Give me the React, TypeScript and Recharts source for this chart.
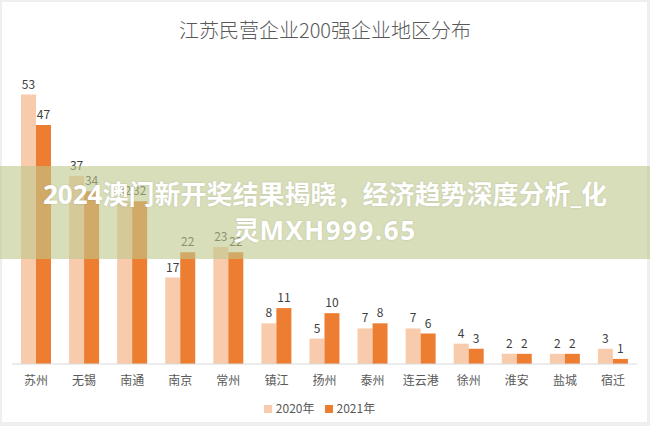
import React from 'react';
import { BarChart, Bar, XAxis, YAxis, Legend, LabelList } from 'recharts';

const cities = ['苏州', '无锡', '南通', '南京', '常州', '镇江', '扬州', '泰州', '连云港', '徐州', '淮安', '盐城', '宿迁'];
const y2020 = [53, 37, 32, 17, 23, 8, 5, 7, 7, 4, 2, 2, 3];
const y2021 = [47, 34, 32, 22, 22, 11, 10, 8, 6, 3, 2, 2, 1];

const title = '江苏民营企业200强企业地区分布';
const bannerLine1 = '2024澳门新开奖结果揭晓，经济趋势深度分析_化';
const bannerLine2 = ['灵', 'MXH999.65'];

const FONT = '"Noto Sans CJK SC", "Noto Sans", sans-serif';
const BANNER_FONT = '"Open Sans", "Noto Sans CJK SC", sans-serif';

const data = cities.map((city, i) => ({ city, a: y2020[i], b: y2021[i] }));

const App: React.FC = () => {
  return (
    <div style={{ position: 'absolute', left: 0, top: 0, width: 650, height: 426, background: '#eeeeee', fontFamily: FONT }}>
      <div style={{ position: 'absolute', left: 2, top: 2, width: 645, height: 420, background: '#ffffff' }} />
      <div style={{ position: 'absolute', left: 0, top: 16, width: 650, textAlign: 'center', fontSize: 20, lineHeight: '28px', color: '#595959', fontWeight: 300 }}>
        {title}
      </div>
      <div style={{ position: 'absolute', left: 0, top: 0 }}>
        <BarChart width={650} height={426} data={data} margin={{ top: 59, right: 13, left: 12, bottom: 8 }} barGap={0}>
          <XAxis
            dataKey="city"
            tickLine={false}
            axisLine={{ stroke: '#d9d9d9' }}
            tick={{ fill: '#595959', fontSize: 12, fontFamily: FONT }}
            tickMargin={6}
            interval={0}
            height={30}
          />
          <YAxis hide domain={[0, 60]} />
          <Legend
            verticalAlign="bottom"
            iconType="square"
            iconSize={8}
            formatter={(v) => <span style={{ color: '#595959', fontSize: 12, fontFamily: FONT }}>{v}</span>}
          />
          <Bar dataKey="a" name="2020年" fill="#F8CBAD" barSize={15} isAnimationActive={false}>
            <LabelList dataKey="a" position="top" offset={6} style={{ fill: '#404040', fontSize: 12, fontFamily: FONT }} />
          </Bar>
          <Bar dataKey="b" name="2021年" fill="#ED7D31" barSize={15} isAnimationActive={false}>
            <LabelList dataKey="b" position="top" offset={6} style={{ fill: '#404040', fontSize: 12, fontFamily: FONT }} />
          </Bar>
        </BarChart>
      </div>
      <div
        style={{
          position: 'absolute',
          left: 0,
          top: 166,
          width: 650,
          height: 93,
          boxSizing: 'border-box',
          paddingTop: 10,
          background: 'rgba(190,200,140,0.6)',
          color: '#ffffff',
          fontFamily: BANNER_FONT,
          fontWeight: 700,
          fontSize: 26,
          lineHeight: '36px',
          textAlign: 'center',
          whiteSpace: 'nowrap',
          textShadow: '0 0 2px rgba(0,0,0,0.15)',
        }}
      >
        <div>{bannerLine1}</div>
        <div>
          {bannerLine2[0]}
          <span style={{ letterSpacing: 1.5 }}>{bannerLine2[1]}</span>
        </div>
      </div>
    </div>
  );
};

export default App;
